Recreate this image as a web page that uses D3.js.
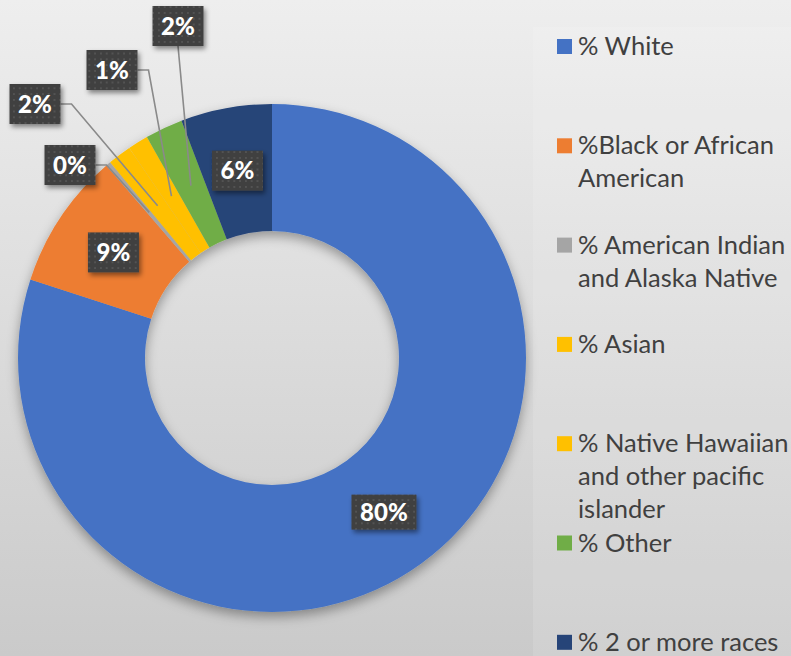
<!DOCTYPE html>
<meta charset="utf-8">
<script src="https://d3js.org/d3.v7.min.js"></script>
<style>
  body { margin: 0; }
</style>
<div id="my_dataviz"></div>
<script>

// data: share of population by race (percent)
var categories = ["% White", "%Black or African American", "% American Indian and Alaska Native",
                  "% Asian", "% Native Hawaiian and other pacific islander", "% Other", "% 2 or more races"];
var values = [80.0, 8.7, 0.3, 1.5, 1.3, 2.4, 5.8];
var colors = ["#4472c4", "#ed7d31", "#a5a5a5", "#ffc000", "#ffc000", "#70ad47", "#264478"];
// legend text wrapped as in the original
var legendLines = [["% White"], ["%Black or African", "American"], ["% American Indian", "and Alaska Native"],
                   ["% Asian"], ["% Native Hawaiian", "and other pacific", "islander"], ["% Other"], ["% 2 or more races"]];

var width = 791, height = 656;
var cx = 272, cy = 358, outerR = 254, innerR = 127;

var svg = d3.select("#my_dataviz")
  .append("svg")
    .attr("width", width)
    .attr("height", height);

var defs = svg.append("defs");

// background gradient
var bg = defs.append("linearGradient").attr("id", "bg")
  .attr("x1", 0).attr("y1", 0).attr("x2", 0).attr("y2", 1);
bg.append("stop").attr("offset", "0%").attr("stop-color", "#eeeeee");
bg.append("stop").attr("offset", "100%").attr("stop-color", "#cacaca");

// shadow for the ring
var sh = defs.append("filter").attr("id", "ringShadow")
  .attr("x", "-20%").attr("y", "-20%").attr("width", "140%").attr("height", "140%");
sh.append("feDropShadow").attr("dx", 0).attr("dy", 5).attr("stdDeviation", 6)
  .attr("flood-color", "#000").attr("flood-opacity", 0.35);

// shadow for label boxes
var ls = defs.append("filter").attr("id", "lblShadow")
  .attr("x", "-30%").attr("y", "-30%").attr("width", "160%").attr("height", "160%");
ls.append("feDropShadow").attr("dx", 2).attr("dy", 3).attr("stdDeviation", 2.5)
  .attr("flood-color", "#000").attr("flood-opacity", 0.45);

// dotted pattern for label boxes
var pat = defs.append("pattern").attr("id", "dots")
  .attr("width", 5.8).attr("height", 5.8).attr("patternUnits", "userSpaceOnUse");
pat.append("rect").attr("width", 5.8).attr("height", 5.8).attr("fill", "#404040");
pat.append("rect").attr("x", 2).attr("y", 2).attr("width", 1.8).attr("height", 1.8).attr("fill", "#565656");

svg.append("rect")
  .attr("width", width).attr("height", height)
  .attr("fill", "url(#bg)");

// legend area is a touch lighter
svg.append("rect")
  .attr("x", 533).attr("y", 27)
  .attr("width", width - 533).attr("height", height - 27)
  .attr("fill", "#fff").attr("fill-opacity", 0.12);

var pie = d3.pie().sort(null).value(function(d) { return d; });
var arcs = pie(values);

var arc = d3.arc().innerRadius(innerR).outerRadius(outerR);

var g = svg.append("g")
  .attr("transform", "translate(" + cx + "," + cy + ")");

g.append("g")
  .attr("filter", "url(#ringShadow)")
  .selectAll("path")
  .data(arcs)
  .enter()
  .append("path")
    .attr("d", arc)
    .attr("fill", function(d, i) { return colors[i]; });

// labels: big slices on the slice, small ones pulled out with leader lines
// offsets are box centers relative to the pie center (null = on the slice)
var labelPos = [null, null, [-202, -193], [-237, -254], [-160, -288], [-94, -332], null];

var labels = g.append("g");
arcs.forEach(function(d, i) {
  var txt = Math.round(values[i]) + "%";
  var c = arc.centroid(d);
  var p = labelPos[i] || c;
  var w = txt.length > 2 ? 65 : 51;
  var boxH = txt.length > 2 ? 35 : 40;

  if (labelPos[i]) {
    var pts;
    if (i === 5) {
      // straight down from the box bottom
      pts = [[p[0], p[1] + boxH / 2], c];
    } else {
      pts = [[p[0] + w / 2, p[1]], [p[0] + w / 2 + 11, p[1]], c];
    }
    labels.append("path")
      .attr("d", d3.line()(pts))
      .attr("fill", "none")
      .attr("stroke", "#8a8a8a")
      .attr("stroke-width", 1.6);
  }

  labels.append("rect")
    .attr("x", p[0] - w / 2).attr("y", p[1] - boxH / 2)
    .attr("width", w).attr("height", boxH)
    .attr("fill", "url(#dots)")
    .attr("filter", "url(#lblShadow)");

  labels.append("text")
    .attr("x", p[0]).attr("y", p[1])
    .attr("dy", "0.36em")
    .attr("text-anchor", "middle")
    .style("font", "900 24px Lato")
    .attr("fill", "#ffffff")
    .text(txt);
});

// legend
var legend = svg.append("g");
var legY0 = 39, legStep = 99.3;
legendLines.forEach(function(lines, i) {
  var y = legY0 + i * legStep;
  legend.append("rect")
    .attr("x", 557).attr("y", y)
    .attr("width", 15).attr("height", 15)
    .attr("fill", colors[i]);
  var t = legend.append("text")
    .attr("x", 578).attr("y", y + 16)
    .style("font", "25.5px Lato")
    .attr("fill", "#404040");
  lines.forEach(function(l, j) {
    t.append("tspan").attr("x", 578).attr("y", y + 16 + j * 33).text(l);
  });
});

</script>
